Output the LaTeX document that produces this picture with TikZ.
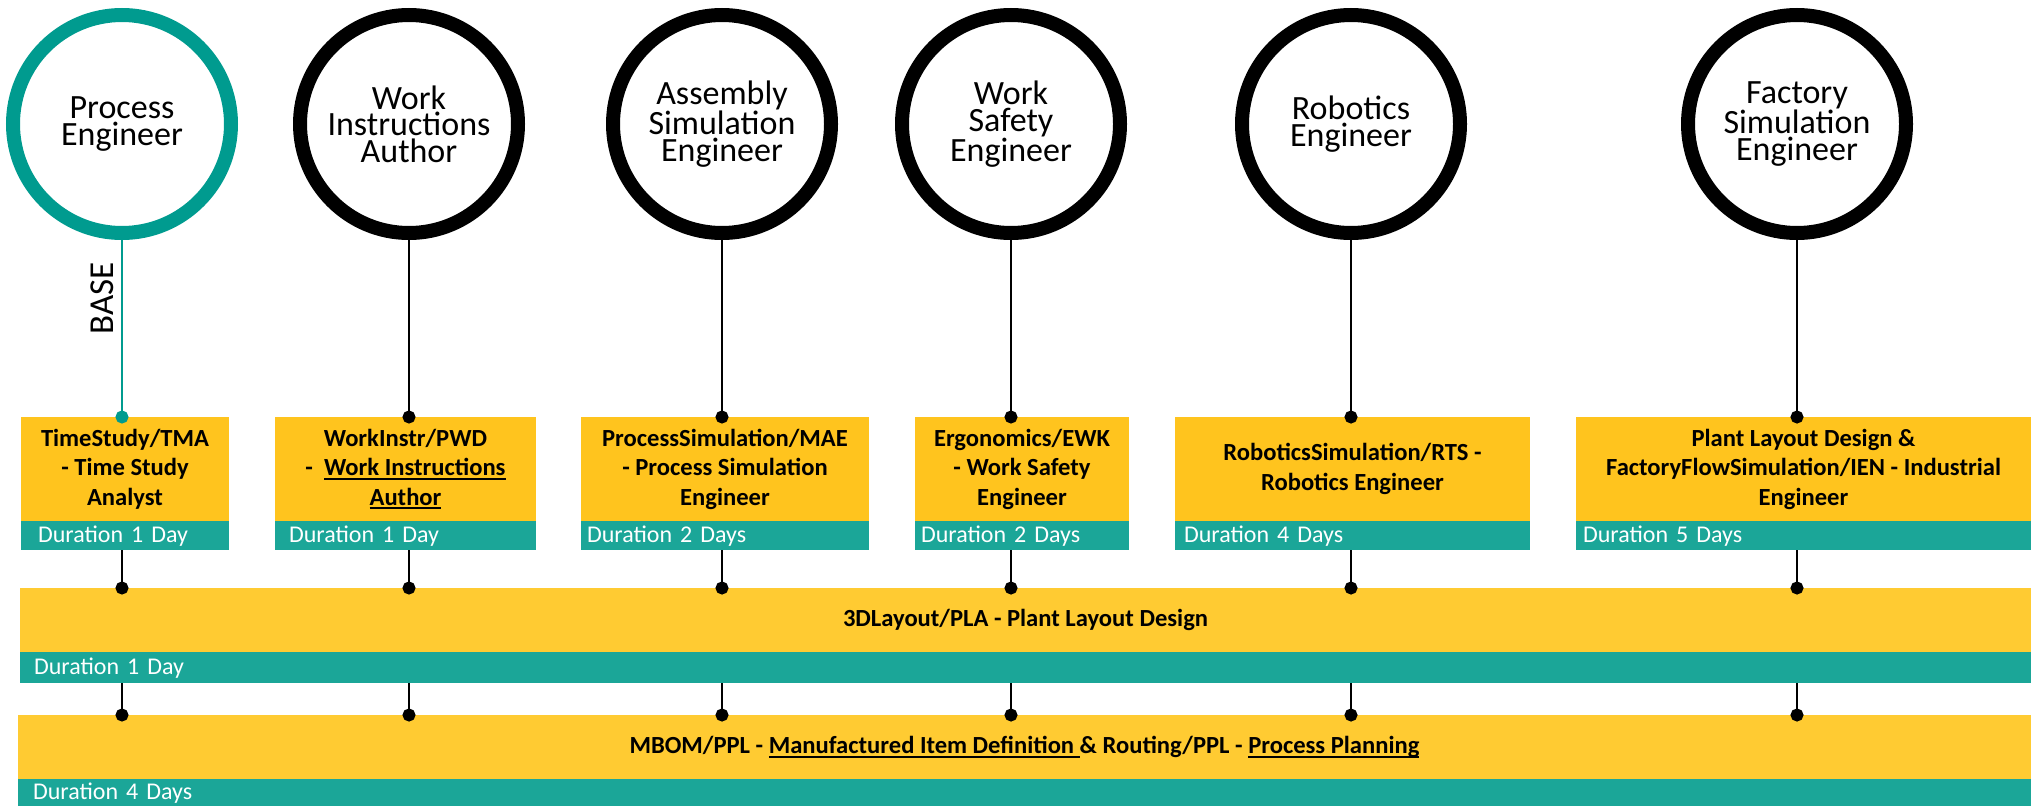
\documentclass[tikz,border=0pt]{standalone}
\usepackage{fontspec}
\setmainfont{Carlito}
\usetikzlibrary{arrows.meta, positioning}
\definecolor{taskyellow}{RGB}{255,196,30}
\definecolor{stageyellow}{RGB}{255,203,50}
\definecolor{durteal}{RGB}{27,166,152}
\definecolor{baseteal}{RGB}{0,155,143}
\newsavebox{\ulbox}
\newcommand{\ulw}[1]{\sbox{\ulbox}{#1}\rlap{\rule[-4pt]{\wd\ulbox}{1.8pt}}\usebox{\ulbox}}
\tikzset{
    role/.style={circle, draw=black, line width=14pt, minimum size=218pt, inner sep=0pt, align=center, font=\fontsize{34}{26.5}\selectfont},
    task/.style={rectangle, fill=taskyellow, outer sep=0pt, inner sep=0pt, minimum height=104pt, align=center, font=\fontsize{24.6}{29.5}\selectfont\bfseries},
    stage/.style={task, fill=stageyellow, minimum height=64pt},
    duration/.style={rectangle, fill=durteal, text=white, outer sep=0pt, inner ysep=0pt, minimum height=29pt, text height=17pt, text depth=3pt, align=left, font=\fontsize{24}{28}\selectfont},
    dotline/.style={draw=black, line width=2.2pt, -{Circle[length=13pt]}, shorten >=-6.5pt},
    tealline/.style={dotline, draw=baseteal}
}

\begin{document}
\begin{tikzpicture}[x=1pt, y=-1pt]
    \useasboundingbox (0,0) rectangle (2031,806);

    % roles
    \node [role, draw=baseteal] (PE) at (122,124) {Process\\Engineer};
    \node [role] (WIA) at (409,124) {Work\\Instructions\\Author};
    \node [role] (ASE) at (722,124) {Assembly\\Simulation\\Engineer};
    \node [role] (WSE) at (1011,124) {Work\\Safety\\Engineer};
    \node [role] (RE) at (1351,124) {Robotics\\Engineer};
    \node [role] (FSE) at (1797,124) {Factory\\Simulation\\Engineer};

    % apps
    \node [task, minimum width=208pt] (TMA) at (125,469) {TimeStudy/TMA\\- Time Study\\Analyst};
    \node [task, minimum width=261pt] (PWD) at (405.5,469) {WorkInstr/PWD\\-\ \ \ulw{Work Instructions}\\\ulw{Author}};
    \node [task, minimum width=288pt] (MAE) at (725,469) {ProcessSimulation/MAE\\- Process Simulation\\Engineer};
    \node [task, minimum width=214pt] (EWK) at (1022,469) {Ergonomics/EWK\\- Work Safety\\Engineer};
    \node [task, minimum width=355pt] (RTS) at (1352.5,469) {RoboticsSimulation/RTS -\\Robotics Engineer};
    \node [task, minimum width=455pt] (IEN) at (1803.5,469) {Plant Layout Design \&\\FactoryFlowSimulation/IEN - Industrial\\Engineer};

    \node [duration, inner xsep=17pt, text width=174pt, below=0pt of TMA] (TMAd) {Duration 1 Day};
    \node [duration, inner xsep=14pt, text width=233pt, below=0pt of PWD] (PWDd) {Duration 1 Day};
    \node [duration, inner xsep=6pt, text width=276pt, below=0pt of MAE] (MAEd) {Duration 2 Days};
    \node [duration, inner xsep=6pt, text width=202pt, below=0pt of EWK] (EWKd) {Duration 2 Days};
    \node [duration, inner xsep=9pt, text width=337pt, below=0pt of RTS] (RTSd) {Duration 4 Days};
    \node [duration, inner xsep=7pt, text width=441pt, below=0pt of IEN] (IENd) {Duration 5 Days};

    % common stages
    \node [stage, minimum width=2011pt] (PLA) at (1025.5,620) {3DLayout/PLA - Plant Layout Design};
    \node [duration, inner xsep=14pt, text width=1983pt, minimum height=31pt, below=0pt of PLA] (PLAd) {Duration 1 Day};
    \node [stage, minimum width=2013pt] (PPL) at (1024.5,747) {MBOM/PPL - \ulw{Manufactured Item Definition\ }\& Routing/PPL - \ulw{Process Planning}};
    \node [duration, inner xsep=15pt, text width=1983pt, minimum height=27pt, below=0pt of PPL] (PPLd) {Duration 4 Days};

    \draw [tealline] (PE.south) -- node [rotate=90, anchor=south, pos=0.33, inner sep=7pt, font=\fontsize{35}{40}\selectfont] (BASE) {BASE} (PE.south |- TMA.north);
    \foreach \r/\t in {WIA/PWD, ASE/MAE, WSE/EWK, RE/RTS, FSE/IEN}
        \draw [dotline] (\r.south) -- (\r.south |- \t.north);
    \foreach \r/\d in {PE/TMAd, WIA/PWDd, ASE/MAEd, WSE/EWKd, RE/RTSd, FSE/IENd} {
        \draw [dotline] (\r.south |- \d.south) -- (\r.south |- PLA.north);
        \draw [dotline] (\r.south |- PLAd.south) -- (\r.south |- PPL.north);
    }
\end{tikzpicture}
\end{document}
